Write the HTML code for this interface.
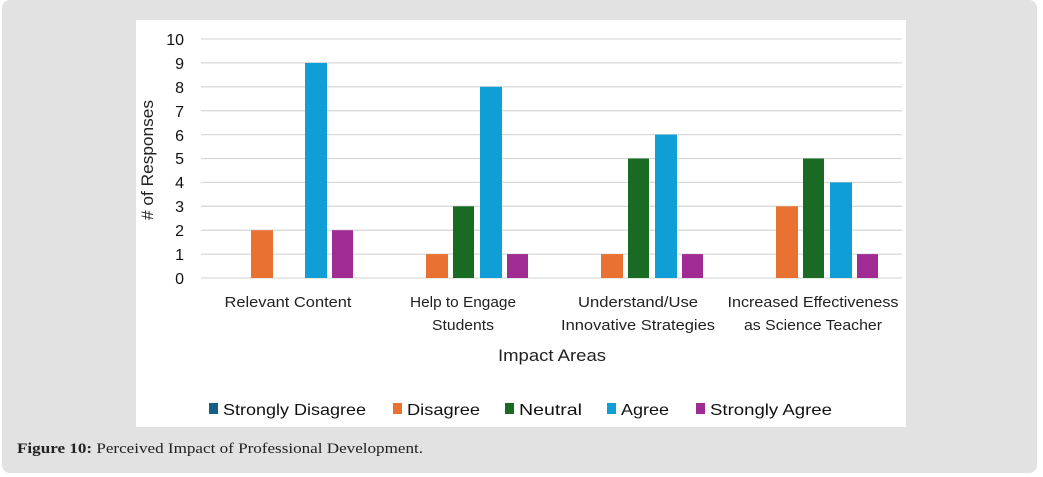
<!DOCTYPE html>
<html><head><style>
body{margin:0;width:1043px;height:477px;background:#fff;overflow:hidden;font-family:"Liberation Sans",sans-serif}
.outer{position:absolute;left:2px;top:0;width:1035px;height:473px;background:#e2e2e2;border-radius:8px}
.panel{position:absolute;left:136px;top:20px;width:770px;height:407px;background:#fff}
</style></head><body>
<div class="outer"></div>
<div class="panel"></div>
<svg width="1043" height="477" style="position:absolute;left:0;top:0" font-family="Liberation Sans, sans-serif">
<g stroke="#d9d9d9" stroke-width="1.3">
<line x1="201" x2="902" y1="278" y2="278"/><line x1="201" x2="902" y1="254.1" y2="254.1"/><line x1="201" x2="902" y1="230.2" y2="230.2"/><line x1="201" x2="902" y1="206.3" y2="206.3"/><line x1="201" x2="902" y1="182.4" y2="182.4"/><line x1="201" x2="902" y1="158.5" y2="158.5"/><line x1="201" x2="902" y1="134.6" y2="134.6"/><line x1="201" x2="902" y1="110.7" y2="110.7"/><line x1="201" x2="902" y1="86.8" y2="86.8"/><line x1="201" x2="902" y1="62.9" y2="62.9"/><line x1="201" x2="902" y1="39" y2="39"/>
</g>
<g font-size="16" fill="#111" text-anchor="end">
<text x="184" y="284">0</text><text x="184" y="260">1</text><text x="184" y="236">2</text><text x="184" y="212">3</text><text x="184" y="188">4</text><text x="184" y="164">5</text><text x="184" y="141">6</text><text x="184" y="117">7</text><text x="184" y="93">8</text><text x="184" y="69">9</text><text x="184" y="45">10</text>
</g>
<text transform="translate(153,160) rotate(-90)" text-anchor="middle" font-size="17" fill="#222" textLength="120" lengthAdjust="spacingAndGlyphs"># of Responses</text>
<g>
<rect x="251" y="230.2" width="22" height="47.8" fill="#e97132"/>
<rect x="305" y="62.9" width="22" height="215.1" fill="#0f9ed5"/>
<rect x="332" y="230.2" width="21" height="47.8" fill="#a02b93"/>
<rect x="426" y="254.1" width="22" height="23.9" fill="#e97132"/>
<rect x="453" y="206.3" width="21" height="71.7" fill="#196b24"/>
<rect x="480" y="86.8" width="22" height="191.2" fill="#0f9ed5"/>
<rect x="507" y="254.1" width="21" height="23.9" fill="#a02b93"/>
<rect x="601" y="254.1" width="22" height="23.9" fill="#e97132"/>
<rect x="628" y="158.5" width="21" height="119.5" fill="#196b24"/>
<rect x="655" y="134.6" width="22" height="143.4" fill="#0f9ed5"/>
<rect x="682" y="254.1" width="21" height="23.9" fill="#a02b93"/>
<rect x="776" y="206.3" width="22" height="71.7" fill="#e97132"/>
<rect x="803" y="158.5" width="21" height="119.5" fill="#196b24"/>
<rect x="830" y="182.4" width="22" height="95.6" fill="#0f9ed5"/>
<rect x="857" y="254.1" width="21" height="23.9" fill="#a02b93"/>
</g>
<g font-size="15" fill="#222" text-anchor="middle" lengthAdjust="spacingAndGlyphs">
<text x="288" y="307" textLength="127" lengthAdjust="spacingAndGlyphs">Relevant Content</text>
<text x="463" y="307" textLength="106" lengthAdjust="spacingAndGlyphs">Help to Engage</text><text x="463" y="330" textLength="62" lengthAdjust="spacingAndGlyphs">Students</text>
<text x="638" y="307" textLength="120" lengthAdjust="spacingAndGlyphs">Understand/Use</text><text x="638" y="330" textLength="154" lengthAdjust="spacingAndGlyphs">Innovative Strategies</text>
<text x="813" y="307" textLength="171" lengthAdjust="spacingAndGlyphs">Increased Effectiveness</text><text x="813" y="330" textLength="138" lengthAdjust="spacingAndGlyphs">as Science Teacher</text>
</g>
<text x="552" y="361" text-anchor="middle" font-size="17" fill="#222" textLength="108" lengthAdjust="spacingAndGlyphs">Impact Areas</text>
<g font-size="16" fill="#111">
<rect x="209" y="403" width="9" height="11" fill="#156082"/><text x="223" y="415" textLength="143" lengthAdjust="spacingAndGlyphs">Strongly Disagree</text>
<rect x="393" y="403" width="9" height="11" fill="#e97132"/><text x="407" y="415" textLength="73" lengthAdjust="spacingAndGlyphs">Disagree</text>
<rect x="505" y="403" width="9" height="11" fill="#196b24"/><text x="519" y="415" textLength="63" lengthAdjust="spacingAndGlyphs">Neutral</text>
<rect x="607" y="403" width="9" height="11" fill="#0f9ed5"/><text x="621" y="415" textLength="48" lengthAdjust="spacingAndGlyphs">Agree</text>
<rect x="696" y="403" width="9" height="11" fill="#a02b93"/><text x="710" y="415" textLength="122" lengthAdjust="spacingAndGlyphs">Strongly Agree</text>
</g>
<text x="17" y="453" font-family="Liberation Serif, serif" font-size="15" fill="#222" textLength="406" lengthAdjust="spacingAndGlyphs"><tspan font-weight="bold">Figure 10:</tspan> Perceived Impact of Professional Development.</text>
</svg>
</body></html>
